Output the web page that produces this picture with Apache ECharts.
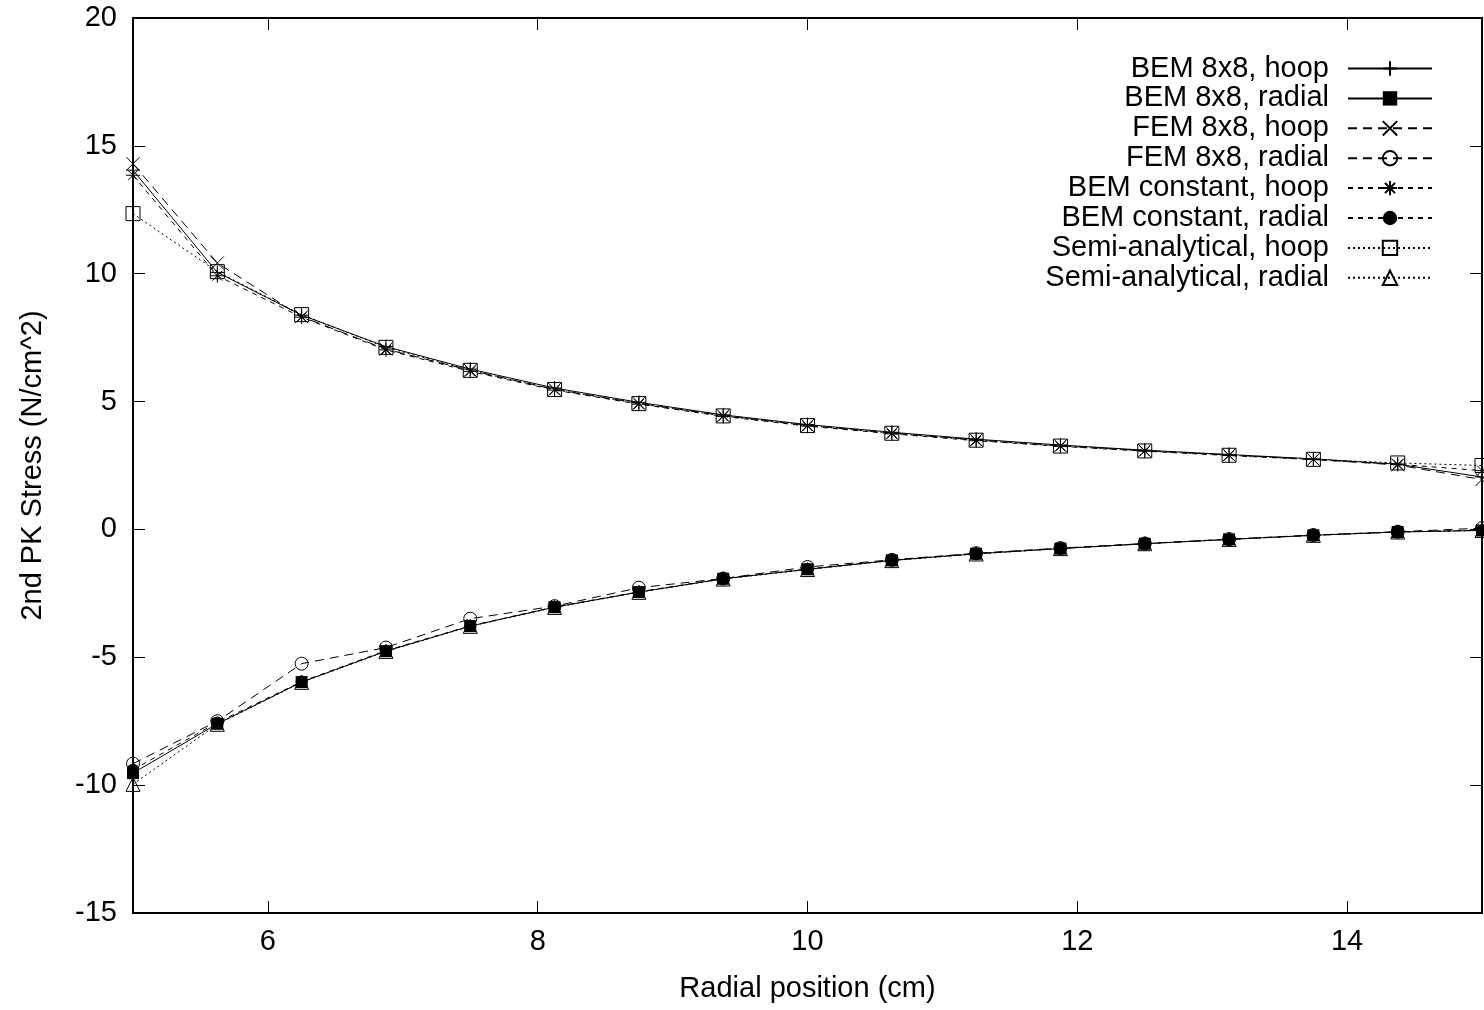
<!DOCTYPE html>
<html>
<head>
<meta charset="utf-8">
<script src="https://cdn.jsdelivr.net/npm/echarts@6/dist/echarts.min.js"></script>
<style>
  html, body { margin: 0; padding: 0; background: #fff; }
  #chart { width: 1484px; height: 1010px; }
</style>
</head>
<body>
<div id="chart"></div>
<script>
// Radial positions (cm)
const radialPos = [5, 5.625, 6.25, 6.875, 7.5, 8.125, 8.75, 9.375, 10, 10.625, 11.25, 11.875, 12.5, 13.125, 13.75, 14.375, 15];

// Stress values (N/cm^2)
const bem8Hoop    = [14.05, 10.05, 8.38, 7.15, 6.27, 5.53, 4.97, 4.48, 4.10, 3.80, 3.53, 3.30, 3.10, 2.93, 2.76, 2.55, 2.05];
const bem8Radial  = [-9.53, -7.60, -5.97, -4.76, -3.78, -3.04, -2.45, -1.93, -1.56, -1.21, -0.95, -0.75, -0.56, -0.39, -0.23, -0.10, -0.04];
const fem8Hoop    = [14.30, 10.42, 8.32, 7.05, 6.22, 5.48, 4.93, 4.45, 4.07, 3.77, 3.50, 3.27, 3.08, 2.91, 2.74, 2.52, 1.95];
const fem8Radial  = [-9.16, -7.50, -5.25, -4.62, -3.49, -3.00, -2.28, -1.92, -1.47, -1.19, -0.93, -0.73, -0.55, -0.38, -0.22, -0.09, 0.05];
const bemCHoop    = [13.85, 9.92, 8.30, 7.02, 6.18, 5.45, 4.90, 4.42, 4.04, 3.74, 3.47, 3.25, 3.06, 2.89, 2.73, 2.55, 2.30];
const bemCRadial  = [-9.40, -7.55, -5.95, -4.74, -3.77, -3.03, -2.44, -1.92, -1.55, -1.20, -0.95, -0.74, -0.56, -0.39, -0.23, -0.10, -0.03];
const semiHoop    = [12.35, 10.08, 8.40, 7.12, 6.22, 5.47, 4.92, 4.44, 4.06, 3.76, 3.49, 3.26, 3.07, 2.90, 2.74, 2.60, 2.50];
const semiRadial  = [-9.97, -7.62, -5.98, -4.77, -3.79, -3.05, -2.46, -1.94, -1.57, -1.22, -0.96, -0.75, -0.56, -0.39, -0.23, -0.10, -0.04];

const xTicks = [6, 8, 10, 12, 14];

const FONT = 'Liberation Sans, Arial, sans-serif';
const FS = 29;

// gnuplot-like point types
const SYM_PLUS = 'path://M0,5H10M5,0V10';
const SYM_CROSS = 'path://M0,0L10,10M10,0L0,10';
const SYM_STAR = 'path://M0,5H10M5,0V10M1.5,1.5L8.5,8.5M8.5,1.5L1.5,8.5';

const seriesDefs = [
    { name: 'BEM 8x8, hoop', data: bem8Hoop, dash: 'solid', symbol: SYM_PLUS, size: 14, filled: false },
    { name: 'BEM 8x8, radial', data: bem8Radial, dash: 'solid', symbol: 'rect', size: 12, filled: true },
    { name: 'FEM 8x8, hoop', data: fem8Hoop, dash: [9, 6], symbol: SYM_CROSS, size: 13, filled: false },
    { name: 'FEM 8x8, radial', data: fem8Radial, dash: [9, 6], symbol: 'circle', size: 13, filled: false },
    { name: 'BEM constant, hoop', data: bemCHoop, dash: [5, 5], symbol: SYM_STAR, size: 14, filled: false },
    { name: 'BEM constant, radial', data: bemCRadial, dash: [5, 5], symbol: 'circle', size: 12, filled: true },
    { name: 'Semi-analytical, hoop', data: semiHoop, dash: [2, 3], symbol: 'rect', size: 14, filled: false },
    { name: 'Semi-analytical, radial', data: semiRadial, dash: [2, 3], symbol: 'triangle', size: 14, filled: false }
];

const series = seriesDefs.map(d => ({
    name: d.name,
    type: 'line',
    xAxisIndex: 0,
    yAxisIndex: 0,
    data: radialPos.map((x, i) => [x, d.data[i]]),
    symbol: d.symbol,
    symbolSize: d.size,
    showAllSymbol: true,
    animation: false,
    lineStyle: { color: '#000', width: 1, type: d.dash },
    itemStyle: {
        color: d.filled ? '#000' : 'transparent',
        borderColor: '#000',
        borderWidth: d.filled ? 0 : 1
    },
    emphasis: { disabled: true },
    z: 3
}));

// one legend per entry so the text stays right-aligned like gnuplot's key
const legends = seriesDefs.map((d, i) => ({
    data: [d.name],
    right: 51,
    top: 54 + i * 29.9,
    padding: 0,
    align: 'right',
    orient: 'vertical',
    itemWidth: 84,
    itemHeight: 18,
    selectedMode: false,
    textStyle: { fontFamily: FONT, fontSize: FS, color: '#000', padding: [0, 14, 0, 0] }
}));

const tickStyle = { show: true, inside: true, length: 12, lineStyle: { color: '#000', width: 1 } };
const lineStyle = { show: true, onZero: false, lineStyle: { color: '#000', width: 2 } };

const chart = echarts.init(document.getElementById('chart'));
chart.setOption({
    backgroundColor: '#fff',
    animation: false,
    grid: { left: 133, right: 2, top: 18, bottom: 97 },
    legend: legends,
    xAxis: [{
        type: 'value',
        min: 5,
        max: 15,
        position: 'bottom',
        name: 'Radial position (cm)',
        nameLocation: 'middle',
        nameGap: 61,
        nameTextStyle: { fontFamily: FONT, fontSize: FS, color: '#000' },
        axisLine: lineStyle,
        axisTick: Object.assign({ customValues: xTicks }, tickStyle),
        axisLabel: { customValues: xTicks, fontFamily: FONT, fontSize: FS, color: '#000', margin: 14 },
        splitLine: { show: false }
    }, {
        type: 'value',
        min: 5,
        max: 15,
        position: 'top',
        axisLine: lineStyle,
        axisTick: Object.assign({ customValues: xTicks }, tickStyle),
        axisLabel: { show: false },
        splitLine: { show: false }
    }],
    yAxis: [{
        type: 'value',
        min: -15,
        max: 20,
        interval: 5,
        position: 'left',
        name: '2nd PK Stress (N/cm^2)',
        nameLocation: 'middle',
        nameGap: 86,
        nameTextStyle: { fontFamily: FONT, fontSize: FS, color: '#000' },
        axisLine: lineStyle,
        axisTick: tickStyle,
        axisLabel: { fontFamily: FONT, fontSize: FS, color: '#000', margin: 16 },
        splitLine: { show: false }
    }, {
        type: 'value',
        min: -15,
        max: 20,
        interval: 5,
        position: 'right',
        axisLine: lineStyle,
        axisTick: tickStyle,
        axisLabel: { show: false },
        splitLine: { show: false }
    }],
    series: series
});

window.addEventListener('resize', () => {
    chart.resize();
});
</script>
</body>
</html>
